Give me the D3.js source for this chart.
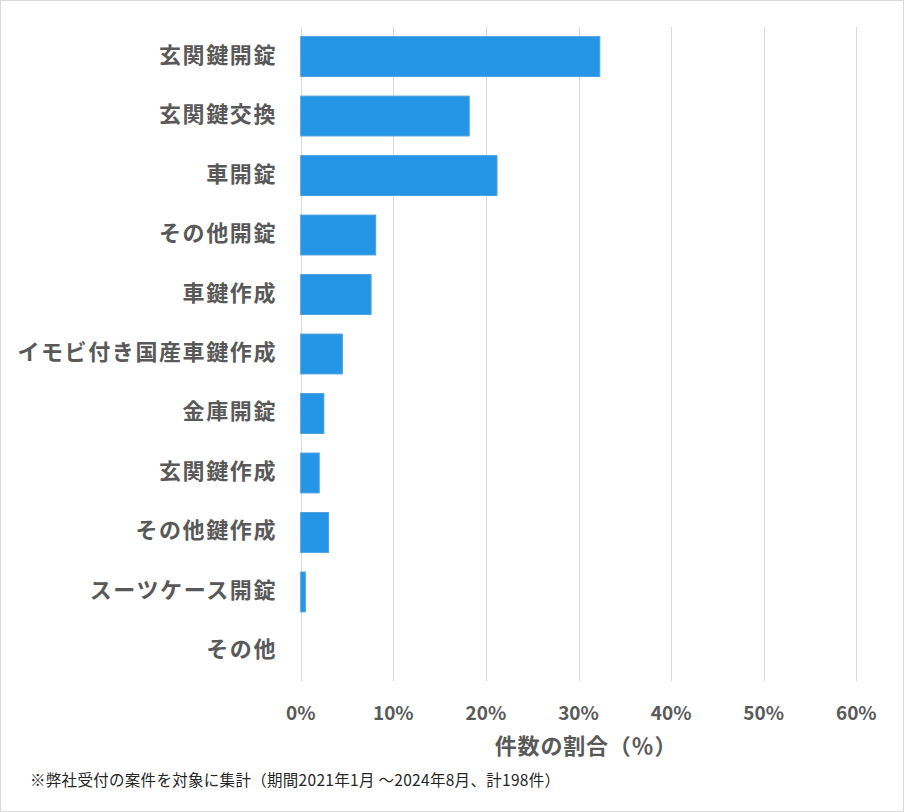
<!DOCTYPE html>
<html><head><meta charset="utf-8">
<script src="https://cdn.jsdelivr.net/npm/d3@7"></script>
<style>body{margin:0;background:#fff}svg{display:block}</style>
</head><body>
<script>
const categories = ["玄関鍵開錠","玄関鍵交換","車開錠","その他開錠","車鍵作成","イモビ付き国産車鍵作成","金庫開錠","玄関鍵作成","その他鍵作成","スーツケース開錠","その他"];
const values = [32.3, 18.2, 21.2, 8.1, 7.6, 4.5, 2.5, 2.0, 3.0, 0.5, 0];
const xTicks = [0,10,20,30,40,50,60];
const axisTitle = "件数の割合（％）";
const footnote = "※弊社受付の案件を対象に集計（期間2021年1月 ～2024年8月、計198件）";

const W = 904, H = 812;
const svg = d3.select("body").append("svg").attr("width", W).attr("height", H);
svg.append("rect").attr("x",0.5).attr("y",0.5).attr("width",W-1).attr("height",H-1)
  .attr("fill","#fff").attr("stroke","#d9d9d9");

const font = "'Noto Sans CJK JP','Noto Sans',sans-serif";
const x = d3.scaleLinear().domain([0,60]).range([300.7, 856.3]);
const y = d3.scaleBand().domain(categories).range([26.8, 681.2]).paddingInner(0.33).paddingOuter(0.165);

// gridlines
svg.append("g").selectAll("line").data(xTicks).join("line")
  .attr("x1", d=>Math.round(x(d))+0.5).attr("x2", d=>Math.round(x(d))+0.5)
  .attr("y1", 26.8).attr("y2", 681.2)
  .attr("stroke","#d9d9d9").attr("stroke-width",1);

// bars
svg.append("g").selectAll("rect").data(categories).join("rect")
  .attr("x", x(0)).attr("y", d=>y(d))
  .attr("width", (d,i)=>Math.max(0, x(values[i])-x(0)))
  .attr("height", y.bandwidth())
  .attr("fill","#2595e6").attr("stroke","#4f9fe0").attr("stroke-width", (d,i)=>values[i]>0?1:0);

// category labels
svg.append("g").selectAll("text").data(categories).join("text")
  .attr("x", 277).attr("y", d=>y(d)+y.bandwidth()/2 + 6)
  .attr("text-anchor","end")
  .attr("font-family", font).attr("font-weight","bold").attr("font-size",22)
  .attr("letter-spacing","1.6px")
  .attr("fill","#595959").text(d=>d);

// x tick labels
svg.append("g").selectAll("text").data(xTicks).join("text")
  .attr("x", d=>x(d)).attr("y", 720)
  .attr("text-anchor","middle")
  .attr("font-family", font).attr("font-weight","bold").attr("font-size",19)
  .attr("fill","#595959").text(d=>d+"%");

svg.append("text").attr("x", 586).attr("y", 754)
  .attr("text-anchor","middle")
  .attr("font-family", font).attr("font-weight","bold").attr("font-size",22)
  .attr("letter-spacing","0.8px")
  .attr("fill","#595959").text(axisTitle);

svg.append("text").attr("x", 30).attr("y", 786)
  .attr("font-family", font).attr("font-size",15.5)
  .attr("letter-spacing","0.3px")
  .attr("fill","#262626").text(footnote);
</script>
</body></html>
